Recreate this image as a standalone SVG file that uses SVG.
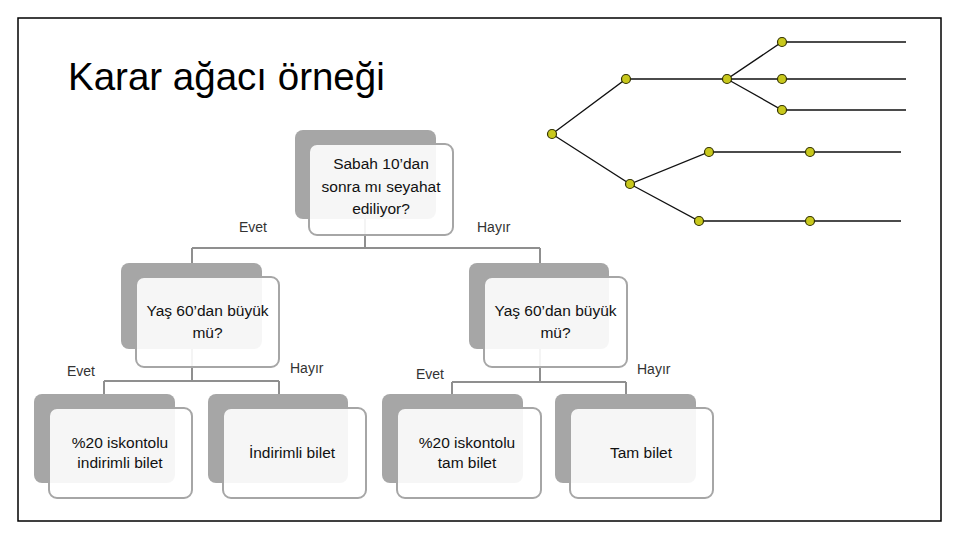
<svg xmlns="http://www.w3.org/2000/svg" width="960" height="540" viewBox="0 0 960 540">
<style>
.back{fill:#a6a6a6}
.front{fill:#ffffff;fill-opacity:0.9;stroke:#a6a6a6;stroke-width:2}
.nt{font-family:"Liberation Sans",Arial,sans-serif;font-size:15.5px;fill:#111111;text-anchor:middle}
.lbl{font-family:"Liberation Sans",Arial,sans-serif;font-size:14px;fill:#333333}
.conn{fill:none;stroke:#8f8f8f;stroke-width:2}
.tl{stroke:#111111;stroke-width:1.3;fill:none}
.dot{fill:#c8c81c;stroke:#333300;stroke-width:1.2}
</style>
<rect x="18" y="18" width="923" height="503" fill="#ffffff" stroke="#000000" stroke-width="1.5"/>
<text x="68" y="90" font-family="'Liberation Sans',Arial,sans-serif" font-size="38.5" fill="#000000">Karar ağacı örneği</text>

<g id="connectors">
<path class="conn" d="M365,219 V248 M192,248 H540 M192,248 V263 M540,248 V263"/>
<path class="conn" d="M192,349 V381 M104,381 H279 M104,381 V394 M279,381 V394"/>
<path class="conn" d="M540,349 V382 M452,382 H626 M452,382 V394 M626,382 V394"/>
</g>

<g id="labels">
<text class="lbl" x="239" y="232">Evet</text>
<text class="lbl" x="477" y="232">Hayır</text>
<text class="lbl" x="67" y="376">Evet</text>
<text class="lbl" x="290" y="373">Hayır</text>
<text class="lbl" x="416" y="379">Evet</text>
<text class="lbl" x="637" y="374">Hayır</text>
</g>

<g id="root">
<rect class="back" x="295" y="130" width="141" height="89" rx="8"/>
<rect class="front" x="309" y="144" width="144" height="91" rx="8"/>
<text class="nt" x="381" y="169">Sabah 10’dan</text>
<text class="nt" x="381" y="192">sonra mı seyahat</text>
<text class="nt" x="381" y="214">ediliyor?</text>
</g>

<g id="age-left">
<rect class="back" x="121" y="263" width="141" height="86" rx="8"/>
<rect class="front" x="136" y="277" width="143" height="90" rx="8"/>
<text class="nt" x="207.5" y="316">Yaş 60’dan büyük</text>
<text class="nt" x="207.5" y="338">mü?</text>
</g>

<g id="age-right">
<rect class="back" x="469" y="263" width="140" height="86" rx="8"/>
<rect class="front" x="484" y="277" width="143" height="90" rx="8"/>
<text class="nt" x="555.5" y="316">Yaş 60’dan büyük</text>
<text class="nt" x="555.5" y="338">mü?</text>
</g>

<g id="leaf-1">
<rect class="back" x="34" y="394" width="141" height="89" rx="8"/>
<rect class="front" x="49" y="408" width="143" height="90" rx="8"/>
<text class="nt" x="120" y="448">%20 iskontolu</text>
<text class="nt" x="120" y="468">indirimli bilet</text>
</g>

<g id="leaf-2">
<rect class="back" x="208" y="394" width="140" height="89" rx="8"/>
<rect class="front" x="223" y="408" width="143" height="90" rx="8"/>
<text class="nt" x="292" y="458">İndirimli bilet</text>
</g>

<g id="leaf-3">
<rect class="back" x="382" y="394" width="141" height="89" rx="8"/>
<rect class="front" x="397" y="408" width="144" height="90" rx="8"/>
<text class="nt" x="467" y="448">%20 iskontolu</text>
<text class="nt" x="467" y="468">tam bilet</text>
</g>

<g id="leaf-4">
<rect class="back" x="555" y="394" width="141" height="89" rx="8"/>
<rect class="front" x="570" y="408" width="143" height="90" rx="8"/>
<text class="nt" x="641" y="458">Tam bilet</text>
</g>

<g id="tree-lines">
<path class="tl" d="M552,134 L626,79 H727 L782,42 H906 M727,79 H906 M727,79 L782,110 H906 M552,134 L630,184 L709,152 H901 M630,184 L699,221 H901"/>
</g>
<g id="tree-nodes">
<circle id="t-a" class="dot" cx="552" cy="134" r="4.5"/>
<circle id="t-b" class="dot" cx="626" cy="79" r="4.5"/>
<circle id="t-c" class="dot" cx="727" cy="79" r="4.5"/>
<circle id="t-d1" class="dot" cx="782" cy="42" r="4.5"/>
<circle id="t-d2" class="dot" cx="782" cy="79" r="4.5"/>
<circle id="t-d3" class="dot" cx="782" cy="110" r="4.5"/>
<circle id="t-e" class="dot" cx="630" cy="184" r="4.5"/>
<circle id="t-f" class="dot" cx="709" cy="152" r="4.5"/>
<circle id="t-g" class="dot" cx="810" cy="152" r="4.5"/>
<circle id="t-h" class="dot" cx="699" cy="221" r="4.5"/>
<circle id="t-i" class="dot" cx="810" cy="221" r="4.5"/>
</g>
</svg>
